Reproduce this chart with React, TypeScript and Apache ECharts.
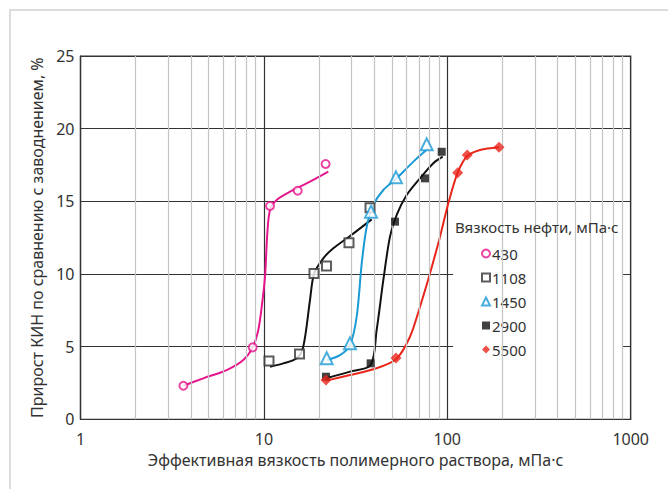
import React, { useEffect, useRef } from "react";
import * as echarts from "echarts";

// Measured points (x = effective polymer viscosity, y = oil recovery increment, %)
const pts430: [number, number][] = [[3.64, 2.31], [8.69, 4.95], [10.8, 14.68], [15.29, 15.73], [21.7, 17.57]];
const pts1108: [number, number][] = [[10.66, 4.01], [15.64, 4.49], [18.76, 10.03], [21.95, 10.55], [29.11, 12.15], [37.9, 14.56]];
const pts1450: [number, number][] = [[22.0, 4.2], [29.48, 5.23], [38.37, 14.29], [52.5, 16.65], [77.2, 18.92]];
const pts2900: [number, number][] = [[21.8, 2.93], [38.2, 3.85], [51.85, 13.6], [75.6, 16.58], [93.2, 18.41]];
const pts5500: [number, number][] = [[21.8, 2.7], [52.5, 4.22], [113.9, 16.97], [128.5, 18.19], [191.4, 18.72]];

// Trend curves
const curve430: [number, number][] = [[3.64, 2.31], [4.67, 2.82], [6.27, 3.39], [7.72, 4.08], [8.69, 4.95], [9.32, 6.15], [9.73, 7.75], [10.14, 9.81], [10.44, 12.8], [10.8, 14.4], [11.74, 15.09], [14.46, 15.78], [17.84, 16.35], [22.45, 17.04]];
const curve1108: [number, number][] = [[10.8, 3.62], [12.76, 3.85], [15.1, 4.2], [16.4, 5.0], [17.84, 8.21], [18.76, 10.0], [21.08, 11.08], [23.9, 11.77], [29.48, 12.61], [38.7, 13.76]];
const curve1450: [number, number][] = [[22.0, 4.08], [26.0, 4.42], [29.48, 5.11], [32.06, 7.06], [34.15, 10.73], [36.36, 13.25], [39.5, 14.75], [44.8, 15.78], [52.98, 16.58], [65.3, 17.73], [78.8, 18.65]];
const curve2900: [number, number][] = [[21.8, 2.82], [29.48, 3.28], [38.2, 3.74], [41.2, 6.15], [44.8, 9.59], [48.7, 12.57], [52.98, 14.06], [60.05, 15.43], [71.0, 16.58], [83.9, 17.62], [94.4, 18.07]];
const curve5500: [number, number][] = [[21.8, 2.66], [29.48, 3.05], [39.5, 3.44], [52.5, 4.13], [62.6, 5.68], [71.0, 7.75], [80.5, 10.05], [91.25, 12.57], [101.3, 14.86], [113.9, 16.97], [128.5, 18.12], [150.8, 18.53], [191.4, 18.72]];

const minorXLines = [2, 3, 4, 5, 6, 7, 8, 9, 20, 30, 40, 50, 60, 70, 80, 90, 200, 300, 400, 500, 600, 700, 800, 900];

const legendTitle = "Вязкость нефти, мПа·с";
const xName = "Эффективная вязкость полимерного раствора, мПа·с";
const yName = "Прирост КИН по сравнению с заводнением, %";

const FONT = "Noto Sans";
const C430 = "#e5178c";
const C1450 = "#1b9ad6";
const C5500 = "#e8261c";
const CBLK = "#111111";

export default function App() {
  const ref = useRef<HTMLDivElement>(null);
  useEffect(() => {
    if (!ref.current) return;
    const chart = echarts.init(ref.current, undefined, { renderer: "svg" });
    const lineS = (name: string, data: [number, number][], color: string) => ({
      name,
      type: "line",
      data,
      smooth: 0.3,
      showSymbol: false,
      symbol: "none",
      z: 4,
      lineStyle: { color, width: 2 },
      silent: true,
    });
    chart.setOption({
      animation: false,
      textStyle: { fontFamily: FONT },
      grid: {
        left: 80.5,
        top: 56,
        right: 37.3,
        bottom: 69.7,
        show: true,
        borderColor: "#333",
        borderWidth: 1.2,
        containLabel: false,
      },
      graphic: [
        {
          type: "rect",
          z: 0,
          shape: { x: 10, y: 10, width: 700, height: 600 },
          style: { fill: "none", stroke: "#dcdcdc", lineWidth: 2 },
          silent: true,
        },
        {
          type: "rect",
          z: 3,
          shape: { x: 453, y: 214, width: 170, height: 169 },
          style: { fill: "#ffffff" },
          silent: true,
        },
        {
          type: "text",
          z: 6,
          x: 455,
          y: 227,
          style: {
            text: legendTitle,
            font: `15px "${FONT}"`,
            fill: "#333",
            textVerticalAlign: "middle",
            verticalAlign: "middle",
          },
          silent: true,
        },
      ],
      legend: {
        data: ["430", "1108", "1450", "2900", "5500"],
        orient: "vertical",
        left: 476,
        top: 241,
        itemWidth: 8,
        itemHeight: 8,
        itemGap: 9,
        textStyle: { fontSize: 15, color: "#333", fontFamily: FONT, padding: [0, 0, 0, -3] },
        selectedMode: false,
      },
      xAxis: {
        type: "log",
        logBase: 10,
        min: 1,
        max: 1000,
        axisLine: { show: true, lineStyle: { color: "#333", width: 1.2 } },
        axisTick: { show: false },
        axisLabel: {
          fontSize: 16,
          color: "#333",
          margin: 12,
          fontFamily: FONT,
          formatter: (v: number) => String(Math.round(v)),
        },
        splitLine: { show: true, lineStyle: { color: "#333", width: 1.2 } },
        name: xName,
        nameLocation: "middle",
        nameGap: 31,
        nameTextStyle: { fontSize: 16, color: "#333", fontFamily: FONT },
      },
      yAxis: {
        type: "value",
        min: 0,
        max: 25,
        interval: 5,
        axisLine: { show: true, lineStyle: { color: "#333", width: 1.2 } },
        axisTick: { show: false },
        axisLabel: { fontSize: 16, color: "#333", margin: 6, fontFamily: FONT },
        splitLine: { show: true, lineStyle: { color: "#333", width: 1.2 } },
        name: yName,
        nameLocation: "middle",
        nameGap: 28,
        nameTextStyle: { fontSize: 16, color: "#333", fontFamily: FONT },
      },
      series: [
        {
          name: "minor",
          type: "line",
          data: [],
          z: 1,
          silent: true,
          markLine: {
            silent: true,
            symbol: ["none", "none"],
            label: { show: false },
            lineStyle: { color: "#c4c4c4", width: 1.2, type: "solid" },
            data: minorXLines.map((v) => ({ xAxis: v })),
          },
        },
        lineS("c430", curve430, C430),
        lineS("c1108", curve1108, CBLK),
        lineS("c1450", curve1450, C1450),
        lineS("c2900", curve2900, CBLK),
        lineS("c5500", curve5500, C5500),
        {
          name: "430",
          type: "scatter",
          data: pts430,
          symbol: "emptyCircle",
          symbolSize: 8,
          z: 5,
          itemStyle: { color: C430, borderColor: C430, borderWidth: 1.2 },
        },
        {
          name: "1108",
          type: "scatter",
          data: pts1108,
          symbol: "emptyRect",
          symbolSize: 9,
          z: 5,
          itemStyle: { color: "#333", borderColor: "#333", borderWidth: 1.2 },
        },
        {
          name: "1450",
          type: "scatter",
          data: pts1450,
          symbol: "emptyTriangle",
          symbolSize: 12,
          z: 5,
          itemStyle: { color: C1450, borderColor: C1450, borderWidth: 1.5 },
        },
        {
          name: "2900",
          type: "scatter",
          data: pts2900,
          symbol: "rect",
          symbolSize: 8,
          z: 5,
          itemStyle: { color: CBLK },
        },
        {
          name: "5500",
          type: "scatter",
          data: pts5500,
          symbol: "diamond",
          symbolSize: 11,
          z: 5,
          itemStyle: { color: C5500 },
        },
      ],
    });
    return () => chart.dispose();
  }, []);
  return (
    <div
      ref={ref}
      style={{ position: "absolute", left: 0, top: 0, width: 668, height: 489, background: "#fff" }}
    />
  );
}
